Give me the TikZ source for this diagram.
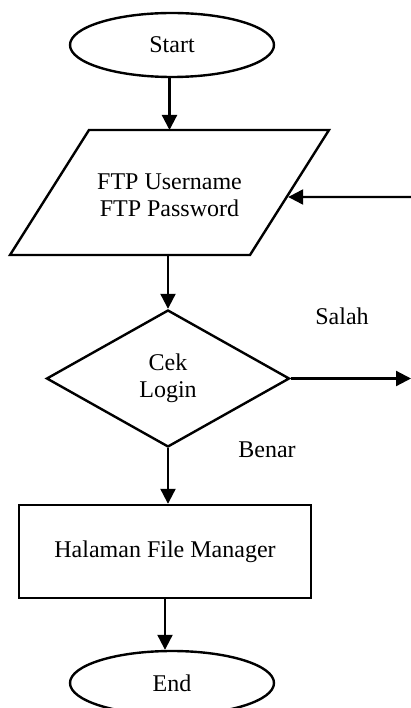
\documentclass[tikz,border=0pt]{standalone}
\usepackage{fontspec}
\setmainfont{Liberation Serif}
\usetikzlibrary{shapes.geometric,arrows.meta,calc}
\tikzset{
  base/.style={draw, line width=2.4pt, align=center, font=\fontsize{24}{27}\selectfont},
  terminal/.style={base, ellipse, minimum width=204pt, minimum height=64pt},
  decision/.style={base, diamond, minimum width=243pt, minimum height=137pt},
  process/.style={base, rectangle, minimum width=292pt, minimum height=93pt},
  flow/.style={line width=2.2pt, -{Triangle[length=15pt,width=15pt]}},
  label/.style={font=\fontsize{24}{27}\selectfont}
}

\begin{document}
\begin{tikzpicture}[x=1pt,y=-1pt]
\useasboundingbox (0,0) rectangle (411,708);
\node[terminal] (start) at (172,45) {Start};
\coordinate (kiriatas) at (89,130);
\coordinate (kananatas) at (329,130);
\coordinate (kananbawah) at (250,255);
\coordinate (kiribawah) at (10,255);
\draw[line width=2.4pt, line join=miter] (kiriatas) -- (kananatas) -- (kananbawah) -- (kiribawah) -- cycle;
\node[label, align=center] (login) at (169.5,195) {FTP Username\\FTP Password};
\node[decision] (cek) at (168,378.5) {Cek\\Login};
\node[process] (halaman) at (165,551.5) {Halaman File Manager};
\node[terminal] (end) at (172,683) {End};
\node[label] (salah) at (342,316) {Salah};
\node[label] (benar) at (267,450) {Benar};
\coordinate (back) at (411,197);
\coordinate (keluar) at (411,378.5);
\coordinate (sisi) at ($(kananatas)!0.536!(kananbawah)$);

\draw[flow] (start.south -| login) -- (kiriatas -| login);
\draw[flow] (kiribawah -| cek.north) -- (cek.north);
\draw[flow] (cek.south) -- (cek.south |- halaman.north);
\draw[flow] (halaman.south) -- (halaman.south |- end.north);
\draw[flow] (cek.east) -- (keluar);
\draw[flow] (back) -- ([xshift=1.5pt]sisi);
\end{tikzpicture}
\end{document}
